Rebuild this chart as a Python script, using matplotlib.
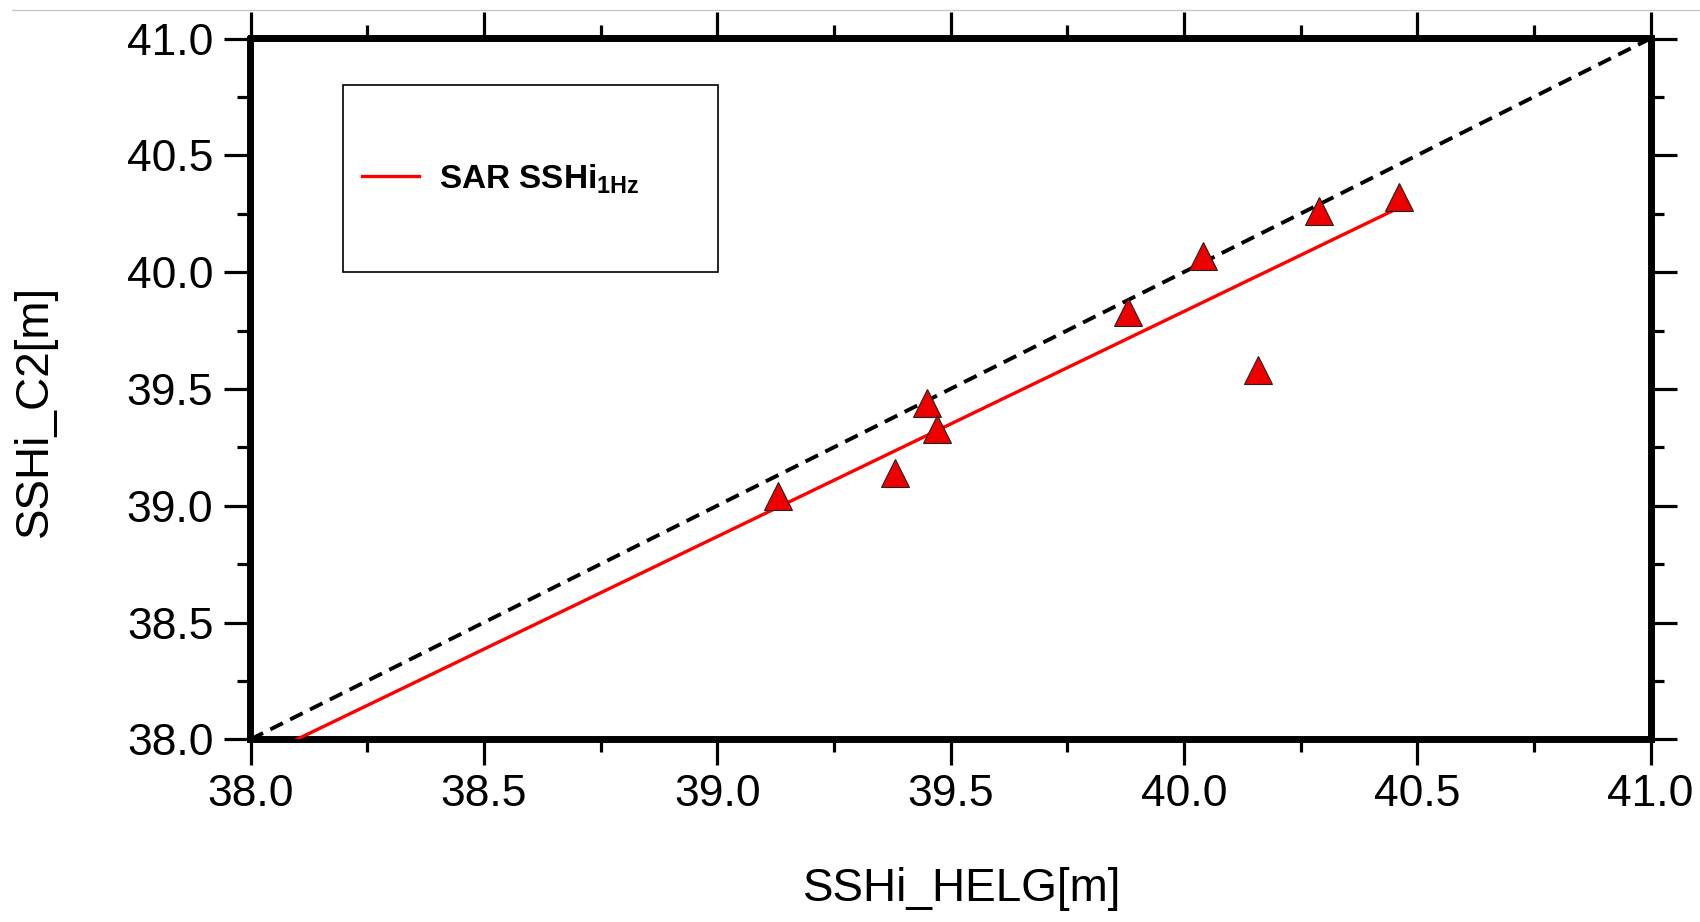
import matplotlib
matplotlib.use("Agg")
import matplotlib.pyplot as plt
from matplotlib.lines import Line2D
from matplotlib.patches import Rectangle
from matplotlib.ticker import MultipleLocator

# Values
helg_ssh = [39.13, 39.38, 39.45, 39.47, 39.88, 40.04, 40.16, 40.29, 40.46]
c2_ssh = [39.04, 39.14, 39.44, 39.33, 39.83, 40.07, 39.58, 40.26, 40.32]

# Fitted SAR line (end points) and the 1:1 reference line
fit_x = [38.0, 40.45]
fit_y = [37.904, 40.265]
one_to_one = [38.0, 41.0]

tick_values = [38.0, 38.5, 39.0, 39.5, 40.0, 40.5, 41.0]
legend_label = r"SAR SSHi$_{\mathbf{1Hz}}$"


def main():
    plt.rcParams["font.family"] = ["Liberation Sans", "DejaVu Sans"]
    plt.rcParams["mathtext.fontset"] = "custom"
    plt.rcParams["mathtext.rm"] = "Liberation Sans"
    plt.rcParams["mathtext.bf"] = "Liberation Sans:bold"

    fig = plt.figure(figsize=(17, 9.22), dpi=100)
    ax = fig.add_axes([250.5 / 1700, (922 - 739.3) / 922, 1400 / 1700, 700.8 / 922])

    # 1:1 line
    ax.plot(one_to_one, one_to_one, color="black", lw=2.8,
            linestyle=(0, (3.6, 2.1)), zorder=2)
    # regression line for SAR
    fit_line, = ax.plot(fit_x, fit_y, color="#ff0000", lw=2.4, zorder=3,
                        label=legend_label)
    # points
    ax.plot(helg_ssh, c2_ssh, linestyle="none", marker="^", markersize=19.5,
            markerfacecolor="#ee0000", markeredgecolor="#222222",
            markeredgewidth=0.8, zorder=4)

    ax.set_xlim(38.0, 41.0)
    ax.set_ylim(38.0, 41.0)
    ax.set_xticks(tick_values)
    ax.set_yticks(tick_values)
    ax.set_xticklabels([f"{v:.1f}" for v in tick_values])
    ax.set_yticklabels([f"{v:.1f}" for v in tick_values])
    ax.xaxis.set_minor_locator(MultipleLocator(0.25))
    ax.yaxis.set_minor_locator(MultipleLocator(0.25))

    ax.tick_params(which="both", direction="out", top=True, right=True,
                   width=2.3, color="black")
    ax.tick_params(which="major", length=18.7, labelsize=32)
    ax.tick_params(which="minor", length=9.5)
    ax.tick_params(axis="x", which="major", pad=6)
    ax.tick_params(axis="y", which="major", pad=8)

    for sp in ax.spines.values():
        sp.set_linewidth(5)

    ax.set_xlabel("SSHi_HELG[m]", fontsize=33, va="center")
    ax.xaxis.set_label_coords(0.508, (739.3 - 889) / 700.8)
    ax.set_ylabel("SSHi_C2[m]", fontsize=33, va="center")
    ax.yaxis.set_label_coords((35 - 250.5) / 1400, (739.3 - 410.5) / 700.8)

    # legend with a hand-drawn frame box
    ax.legend(handles=[fit_line], loc="center left",
              bbox_to_anchor=((362 - 250.5) / 1400, (739.3 - 179) / 700.8),
              frameon=False, borderpad=0, borderaxespad=0,
              handlelength=1.7, handletextpad=0.6,
              prop={"size": 24, "weight": "bold"})
    ax.add_patch(Rectangle(((343 - 250.5) / 1400, (739.3 - 272) / 700.8),
                           375 / 1400, 187 / 700.8, transform=ax.transAxes,
                           fill=False, edgecolor="black", lw=1.2, zorder=5))

    # faint border line from the original screenshot
    fig.add_artist(Line2D([12 / 1700, 1.0], [1 - 10 / 922, 1 - 10 / 922],
                          color="#c8c8c8", lw=1.0))

    fig.savefig("out.png", dpi=100)
    plt.close(fig)


if __name__ == "__main__":
    main()
